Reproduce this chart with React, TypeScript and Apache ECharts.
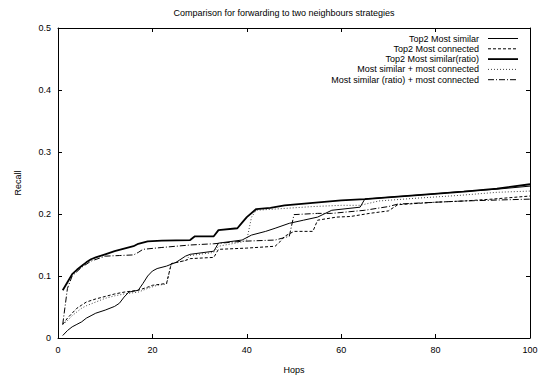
import React, { useEffect, useRef } from "react";
import * as echarts from "echarts";

const titleText = "Comparison for forwarding to two neighbours strategies";
const xTicks = [0, 20, 40, 60, 80, 100];
const yTicks = [0, 0.1, 0.2, 0.3, 0.4, 0.5];

const seriesNames = [
  "Top2 Most similar",
  "Top2 Most connected",
  "Top2 Most similar(ratio)",
  "Most similar + most connected",
  "Most similar (ratio) + most connected",
];

const top2Similar = [
  [1, 0.004], [2, 0.012], [3, 0.018], [4, 0.022], [5, 0.026], [6, 0.032], [7, 0.036], [8, 0.04],
  [10, 0.045], [12, 0.051], [13, 0.056], [14, 0.066], [15, 0.074], [17, 0.077], [18, 0.088],
  [19, 0.1], [20, 0.108], [21, 0.112], [23, 0.116], [25, 0.122], [27, 0.132], [28, 0.135],
  [33, 0.14], [34, 0.153], [39, 0.158], [41, 0.166], [44, 0.172], [46, 0.177], [49, 0.185],
  [52, 0.19], [55, 0.195], [58, 0.206], [64, 0.211], [65, 0.224], [70, 0.227], [79, 0.232],
  [85, 0.236], [93, 0.24], [100, 0.245],
];

const top2Connected = [
  [1, 0.022], [2, 0.032], [3, 0.04], [4, 0.048], [5, 0.053], [6, 0.058], [8, 0.063], [10, 0.067],
  [12, 0.071], [14, 0.074], [17, 0.077], [19, 0.082], [20, 0.085], [22, 0.087], [23, 0.088],
  [24, 0.12], [27, 0.125], [28, 0.128], [33, 0.13], [34, 0.143], [40, 0.145], [46, 0.148],
  [47, 0.155], [48, 0.164], [50, 0.172], [54, 0.172], [55, 0.19], [59, 0.195], [62, 0.196],
  [66, 0.201], [70, 0.205], [72, 0.215], [80, 0.219], [86, 0.221], [92, 0.224], [100, 0.229],
];

const top2SimilarRatio = [
  [1, 0.077], [2, 0.09], [3, 0.103], [4, 0.11], [5, 0.116], [6, 0.122], [7, 0.127], [8, 0.13],
  [10, 0.135], [12, 0.14], [14, 0.144], [16, 0.148], [17, 0.152], [19, 0.156], [22, 0.157],
  [28, 0.158], [29, 0.164], [33, 0.164], [34, 0.174], [38, 0.177], [39, 0.186], [40, 0.195],
  [42, 0.208], [45, 0.21], [48, 0.214], [54, 0.218], [60, 0.222], [65, 0.224], [72, 0.228],
  [79, 0.232], [86, 0.236], [93, 0.241], [100, 0.248],
];

const similarPlusConnected = [
  [1, 0.022], [2, 0.028], [3, 0.036], [4, 0.042], [5, 0.048], [6, 0.052], [8, 0.058], [10, 0.064],
  [12, 0.068], [14, 0.071], [17, 0.074], [19, 0.08], [21, 0.085], [23, 0.087], [24, 0.12],
  [27, 0.125], [28, 0.133], [33, 0.138], [34, 0.148], [39, 0.155], [40, 0.158], [41, 0.195],
  [42, 0.206], [48, 0.209], [54, 0.212], [60, 0.214], [64, 0.214], [68, 0.221], [75, 0.225],
  [85, 0.23], [93, 0.235], [100, 0.237],
];

const ratioPlusConnected = [
  [1, 0.022], [2, 0.08], [3, 0.1], [5, 0.114], [7, 0.124], [10, 0.132], [13, 0.133], [16, 0.134],
  [17, 0.138], [18, 0.143], [22, 0.146], [28, 0.15], [33, 0.152], [39, 0.156], [46, 0.158],
  [49, 0.164], [50, 0.199], [55, 0.201], [58, 0.201], [65, 0.206], [70, 0.212], [72, 0.216],
  [80, 0.219], [86, 0.221], [100, 0.224],
];

const seriesData = [top2Similar, top2Connected, top2SimilarRatio, similarPlusConnected, ratioPlusConnected];

const FONT = "'Liberation Sans', Arial, Helvetica, sans-serif";

export default function App() {
  const ref = useRef<HTMLDivElement>(null);
  useEffect(() => {
    if (!ref.current) return;
    const chart = echarts.init(ref.current, undefined, { renderer: "svg" });
    const styles = [
      { width: 1, type: "solid" as any, color: "#000" },
      { width: 1, type: [3, 2] as any, color: "#000" },
      { width: 1.8, type: "solid" as any, color: "#000" },
      { width: 1, type: [1, 2] as any, color: "#444" },
      { width: 1, type: [6, 2, 1, 2] as any, color: "#000" },
    ];
    const baseAxis = (extra: any) => ({
      type: "value",
      axisLine: { show: true, onZero: false, lineStyle: { color: "#000", width: 1 } },
      axisTick: { show: true, inside: true, length: 4, lineStyle: { color: "#000" } },
      splitLine: { show: false },
      ...extra,
    });
    const legendGraphics: any[] = [];
    seriesNames.forEach((name, i) => {
      const cy = 38.5 + i * 10.3;
      const st = styles[i];
      legendGraphics.push({
        type: "text",
        x: 479,
        y: cy,
        style: {
          text: name,
          align: "right",
          verticalAlign: "middle",
          font: `9px ${FONT}`,
          fill: "#000",
        },
      });
      legendGraphics.push({
        type: "line",
        shape: { x1: 488, y1: cy, x2: 518, y2: cy },
        style: {
          stroke: st.color,
          lineWidth: st.width,
          lineDash: Array.isArray(st.type) ? st.type : null,
        },
      });
    });
    chart.setOption({
      animation: false,
      textStyle: { fontFamily: FONT },
      grid: { left: 58, right: 12, top: 28, bottom: 34 },
      graphic: [
        {
          type: "text",
          x: 284,
          y: 13,
          style: {
            text: titleText,
            align: "center",
            verticalAlign: "middle",
            font: `9px ${FONT}`,
            fill: "#000",
          },
        },
        ...legendGraphics,
      ],
      xAxis: [
        baseAxis({
          min: 0,
          max: 100,
          interval: 20,
          position: "bottom",
          name: "Hops",
          nameLocation: "middle",
          nameGap: 27,
          nameTextStyle: { fontSize: 9, color: "#000", fontFamily: FONT },
          axisLabel: { fontSize: 9, color: "#000", margin: 7, fontFamily: FONT },
        }),
        baseAxis({
          min: 0,
          max: 100,
          interval: 20,
          position: "top",
          axisLabel: { show: false },
        }),
      ],
      yAxis: [
        baseAxis({
          min: 0,
          max: 0.5,
          interval: 0.1,
          position: "left",
          name: "Recall",
          nameLocation: "middle",
          nameGap: 36,
          nameRotate: 90,
          nameTextStyle: { fontSize: 9, color: "#000", fontFamily: FONT },
          axisLabel: {
            fontSize: 9,
            color: "#000",
            margin: 7,
            fontFamily: FONT,
            formatter: (v: number) => (v === 0 ? "0" : String(Math.round(v * 10) / 10)),
          },
        }),
        baseAxis({
          min: 0,
          max: 0.5,
          interval: 0.1,
          position: "right",
          axisLabel: { show: false },
        }),
      ],
      series: seriesNames.map((name, i) => ({
        name,
        type: "line",
        xAxisIndex: 0,
        yAxisIndex: 0,
        data: seriesData[i],
        symbol: "none",
        showSymbol: false,
        lineStyle: styles[i],
        itemStyle: { color: styles[i].color },
        z: 10 - i,
      })),
    });
    return () => chart.dispose();
  }, []);
  return (
    <div
      ref={ref}
      style={{ position: "fixed", left: 0, top: 0, width: 542, height: 379, background: "#fff" }}
    />
  );
}
